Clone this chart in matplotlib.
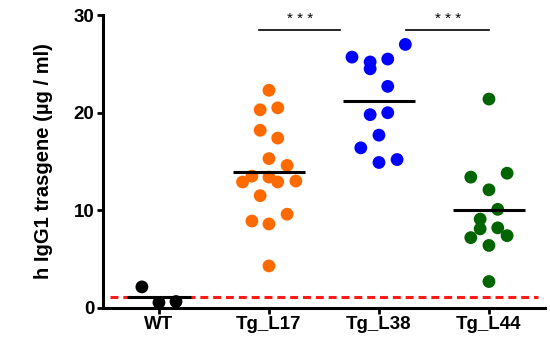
import matplotlib.pyplot as plt
import numpy as np

plt.rcParams['font.family'] = ['Liberation Sans', 'DejaVu Sans']

groups = ["WT", "Tg_L17", "Tg_L38", "Tg_L44"]
colors = ["#000000", "#FF6A00", "#0000FF", "#006400"]

# values (ug/ml)
wt_vals = [2.15, 0.55, 0.65]
l17_vals = [22.3, 20.3, 20.5, 18.2, 17.4, 15.3, 14.6, 12.9, 13.5, 13.4,
            12.9, 13.0, 11.5, 8.9, 8.6, 9.6, 4.3]
l38_vals = [27.0, 25.7, 25.2, 24.5, 25.5, 22.7, 19.8, 20.0, 17.7, 16.4,
            14.9, 15.2]
l44_vals = [21.4, 13.4, 13.8, 12.1, 10.1, 9.1, 8.1, 8.2, 7.2, 7.4, 6.4, 2.7]

# horizontal scatter of each dot (in category units)
wt_dx = [-0.155, 0.0, 0.155]
l17_dx = [0.0, -0.08, 0.08, -0.08, 0.08, 0.0, 0.165, -0.24, -0.155, 0.0,
          0.08, 0.245, -0.08, -0.155, 0.0, 0.165, 0.0]
l38_dx = [0.24, -0.245, -0.08, -0.08, 0.08, 0.08, -0.08, 0.08, 0.0, -0.165,
          0.0, 0.165]
l44_dx = [0.0, -0.165, 0.165, 0.0, 0.08, -0.08, -0.08, 0.08, -0.165, 0.165,
          0.0, 0.0]

values = [wt_vals, l17_vals, l38_vals, l44_vals]
offsets = [wt_dx, l17_dx, l38_dx, l44_dx]
mean_halfwidth = [0.29, 0.33, 0.33, 0.33]

cutoff = 1.13
sig_pairs = [(0.91, 1.65), (2.25, 3.0)]
sig_level = 28.45

fig = plt.figure(figsize=(5.5, 3.44), dpi=100)
ax = fig.add_axes([0.187, 0.105, 0.804, 0.851])

ax.axhline(cutoff, xmin=0.017, xmax=0.985, color='#FF1A1A', lw=2.2,
           dashes=(2.6, 1.6), zorder=1)

for i, (vals, dx, c, hw) in enumerate(zip(values, offsets, colors, mean_halfwidth)):
    ax.scatter(i + np.array(dx), vals, s=85, color=c, edgecolors='none',
               zorder=3, clip_on=False)
    ax.hlines(np.mean(vals), i - hw, i + hw, color='black', lw=2.2, zorder=4)

for x0, x1 in sig_pairs:
    ax.plot([x0, x1], [sig_level, sig_level], color='black', lw=1.2)
    ax.text((x0 + x1) / 2, sig_level + 0.4, "* * *", ha='center', va='bottom',
            fontsize=11)

ax.set_xlim(-0.51, 3.51)
ax.set_ylim(0, 30)
ax.set_xticks(range(len(groups)))
ax.set_xticklabels(groups, fontsize=13.5, fontweight='bold')
ax.set_yticks([0, 10, 20, 30])
ax.set_yticklabels(['0', '10', '20', '30'], fontsize=13.5, fontweight='bold')
ax.set_ylabel("h IgG1 trasgene (µg / ml)", fontsize=14.5, fontweight='bold',
              labelpad=15)

for side in ['top', 'right']:
    ax.spines[side].set_visible(False)
for side in ['left', 'bottom']:
    ax.spines[side].set_linewidth(2.2)
ax.tick_params(width=2, length=4, pad=2)

plt.savefig('out.png', dpi=100)
